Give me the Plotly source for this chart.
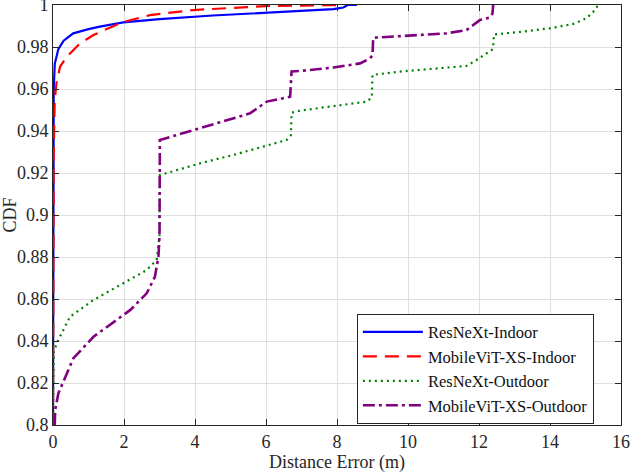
import plotly.graph_objects as go

# ---- data ----
resnext_in_x = [0.0, 0.0, 0.02, 0.05, 0.15, 0.3, 0.57, 1.0, 1.32, 1.98, 3.0, 4.5, 6.0, 7.5, 7.9, 8.18, 8.3, 8.56]
resnext_in_y = [0.8, 0.93, 0.96, 0.972, 0.979, 0.983, 0.9865, 0.9885, 0.9897, 0.9917, 0.9933, 0.995, 0.9963, 0.9976, 0.998, 0.9988, 1.0, 1.0]

mvit_in_x = [0.0, 0.02, 0.05, 0.1, 0.2, 0.39, 0.76, 1.14, 1.6, 1.98, 2.73, 3.95, 6.0, 7.5, 8.1]
mvit_in_y = [0.8, 0.93, 0.955, 0.963, 0.9706, 0.9754, 0.9817, 0.9857, 0.9892, 0.9919, 0.9952, 0.9976, 0.9995, 1.0, 1.0]

resnext_out_x = [0.0, 0.02, 0.15, 0.48, 1.14, 1.98, 2.64, 2.92, 3.0, 3.01, 4.14, 5.08, 6.58, 6.7, 6.72, 6.96,
                 8.84, 8.98, 9.0, 9.77, 10.71, 11.65, 11.93, 12.36, 12.4, 12.42, 13.06, 14.0, 14.66, 15.03, 15.27, 15.35]
resnext_out_y = [0.8, 0.835, 0.8405, 0.8516, 0.8595, 0.8675, 0.8738, 0.8786, 0.89, 0.919, 0.9246, 0.9286, 0.9357, 0.938, 0.9487, 0.9497,
                 0.954, 0.956, 0.9667, 0.9683, 0.9695, 0.971, 0.9738, 0.9786, 0.98, 0.986, 0.987, 0.9889, 0.991, 0.9937, 0.9976, 1.0]

mvit_out_x = [0.05, 0.06, 0.15, 0.29, 0.57, 1.14, 1.71, 2.18, 2.64, 2.87, 2.97, 3.0, 3.01, 4.14, 5.55, 6.02, 6.68, 6.72,
              6.96, 7.9, 8.65, 8.93, 9.0, 9.02, 9.77, 11.08, 11.65, 12.03, 12.31, 12.38, 12.4]
mvit_out_y = [0.8, 0.807, 0.815, 0.8206, 0.8317, 0.842, 0.8492, 0.8548, 0.8627, 0.8706, 0.8802, 0.89, 0.9357, 0.9413, 0.9484, 0.954, 0.9563, 0.9683,
              0.9686, 0.9702, 0.9722, 0.9746, 0.976, 0.9844, 0.9852, 0.9865, 0.9881, 0.9929, 0.9941, 0.996, 1.0]

names = ["ResNeXt-Indoor", "MobileViT-XS-Indoor", "ResNeXt-Outdoor", "MobileViT-XS-Outdoor"]
x_ticks = [0, 2, 4, 6, 8, 10, 12, 14, 16]
y_ticks = [0.8, 0.82, 0.84, 0.86, 0.88, 0.9, 0.92, 0.94, 0.96, 0.98, 1.0]

FONT = "Liberation Serif, Times New Roman, serif"

fig = go.Figure()
fig.add_trace(go.Scatter(x=resnext_in_x, y=resnext_in_y, mode="lines", name=names[0],
                         line=dict(color="#0000ff", width=2.2)))
fig.add_trace(go.Scatter(x=mvit_in_x, y=mvit_in_y, mode="lines", name=names[1],
                         line=dict(color="#ff0000", width=2.2, dash="14px,8px")))
fig.add_trace(go.Scatter(x=resnext_out_x, y=resnext_out_y, mode="lines", name=names[2],
                         line=dict(color="#008000", width=2.2, dash="2px,4px")))
fig.add_trace(go.Scatter(x=mvit_out_x, y=mvit_out_y, mode="lines", name=names[3],
                         line=dict(color="#800080", width=2.6, dash="12px,4px,3px,4px")))

axis_common = dict(
    showline=True, linecolor="#262626", linewidth=1, mirror="ticks",
    ticks="inside", ticklen=6, tickcolor="#262626",
    showgrid=True, gridcolor="#dfdfdf", gridwidth=1,
    zeroline=False, tickfont=dict(family=FONT, size=18, color="#262626"),
    automargin=False, ticklabeloverflow="allow",
)

fig.update_layout(
    width=631, height=473,
    margin=dict(l=53, r=10, t=5, b=48),
    paper_bgcolor="white", plot_bgcolor="white",
    font=dict(family=FONT, size=18, color="#262626"),
    xaxis=dict(range=[0, 16], tickvals=x_ticks, **axis_common,
               title=dict(text="Distance Error (m)", font=dict(family=FONT, size=18), standoff=3)),
    yaxis=dict(range=[0.8, 1.0], tickvals=y_ticks, **axis_common,
               title=dict(text="CDF", font=dict(family=FONT, size=18), standoff=2)),
    legend=dict(x=0.535, y=0.265, xanchor="left", yanchor="top",
                bgcolor="white", bordercolor="#262626", borderwidth=1,
                font=dict(family=FONT, size=16.5, color="#111111"),
                itemwidth=60, tracegroupgap=0),
    showlegend=True,
)

fig.write_html("out.html", config={"displayModeBar": False},
               post_script="document.body.style.margin='0';document.body.style.overflow='hidden';")
